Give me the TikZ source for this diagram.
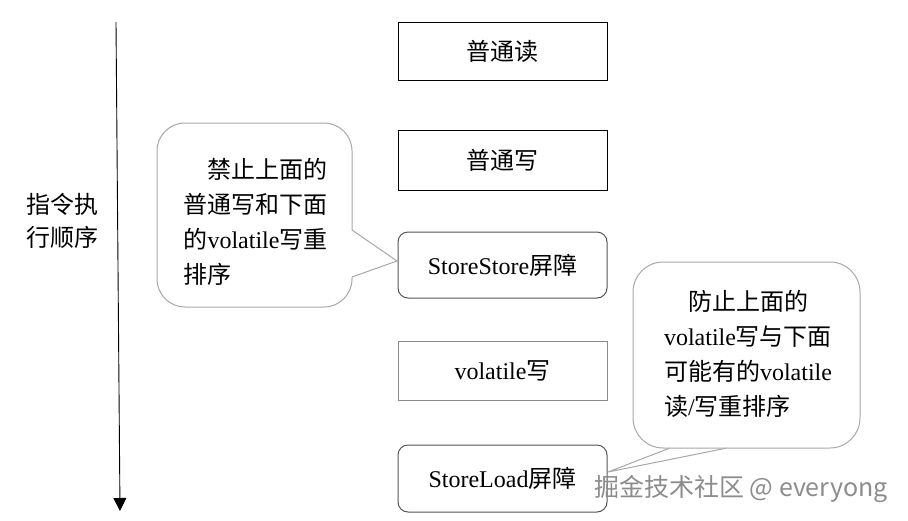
\documentclass[tikz,border=0pt]{standalone}
\usepackage{fontspec}
\setmainfont{Liberation Serif}
\newfontfamily\cjk{Noto Sans CJK SC}
\usetikzlibrary{arrows.meta}
\newcommand{\zh}[1]{{\cjk #1}}
\definecolor{boxgray}{HTML}{555555}
\definecolor{volgray}{HTML}{8A8A8A}
\definecolor{callgray}{HTML}{A8A8A8}
\definecolor{wmgray}{HTML}{8C8C8C}
\tikzset{
  txt/.style={font=\fontsize{24}{35}\selectfont, text=black},
  sqbox/.style={draw=black, line width=1pt, minimum width=209pt, inner sep=0pt, txt},
  rdbox/.style={draw=boxgray, line width=1pt, rounded corners=10pt, minimum width=209pt, inner sep=0pt, txt},
  volbox/.style={draw=volgray, line width=1pt, minimum width=209pt, inner sep=0pt, txt},
  callbox/.style={draw=callgray, line width=1pt, fill=white, rounded corners=28pt, inner sep=0pt},
  calltext/.style={txt, align=left, inner sep=0pt},
  tailside/.style={draw=callgray, line width=1pt},
  flow/.style={draw=black, line width=0.9pt, -{Triangle[length=13pt,width=13pt]}},
}
\begin{document}
\begin{tikzpicture}[x=1pt,y=-1pt]
\useasboundingbox (0,0) rectangle (908,520);

% time arrow
\coordinate (atop) at (116,22);
\coordinate (abot) at (120,511);
\draw[flow] (atop) -- (abot);
\node[txt, align=left, font=\fontsize{24}{33}\selectfont] (lbl) at (63,221) {\zh{指令执}\\\zh{行顺序}};

% instruction boxes
\node[sqbox, minimum height=58pt] (r1) at (502.5,51) {\zh{普通读}};
\node[sqbox, minimum height=60pt] (r2) at (502.5,160) {\zh{普通写}};
\node[rdbox, minimum height=66pt] (r3) at (502.5,265) {StoreStore\zh{屏障}};
\node[volbox, minimum height=59pt] (r4) at (502.5,370.5) {volatile\zh{写}};
\node[rdbox, minimum height=67pt] (r5) at (502.5,478.5) {StoreLoad\zh{屏障}};

% left callout
\node[callbox, minimum width=195pt, minimum height=184pt] (cb1) at (254.5,215) {};
\coordinate (t1a) at (352,230);
\coordinate (t1b) at (352,277);
\coordinate (t1) at (397,261);
\fill[white] ([xshift=-2pt]t1a) -- (t1a) -- (t1) -- (t1b) -- ([xshift=-2pt]t1b) -- cycle;
\draw[tailside] (t1a) -- (t1) -- (t1b);
\node[calltext] (c1) at (255.5,222) {\hspace*{24pt}\zh{禁止上面的}\\\zh{普通写和下面}\\\zh{的}volatile\zh{写重}\\\zh{排序}};

% right callout
\node[callbox, rounded corners=30pt, minimum width=227pt, minimum height=186pt] (cb2) at (746.5,355) {};
\coordinate (t2a) at (670,448);
\coordinate (t2b) at (727,448);
\coordinate (t2) at (608,472);
\fill[white] ([yshift=-2pt]t2a) -- (t2a) -- (t2) -- (t2b) -- ([yshift=-2pt]t2b) -- cycle;
\draw[tailside] (t2a) -- (t2) -- (t2b);
\node[calltext] (c2) at (748,354) {\hspace*{24pt}\zh{防止上面的}\\volatile\zh{写与下面}\\\zh{可能有的}volatile\\\zh{读}/\zh{写重排序}};

% watermark
\node[font=\cjk\fontsize{25}{28}\selectfont, text=wmgray, anchor=west, inner sep=0pt] (wm) at (594,489) {掘金技术社区 @ everyong};
\end{tikzpicture}
\end{document}
